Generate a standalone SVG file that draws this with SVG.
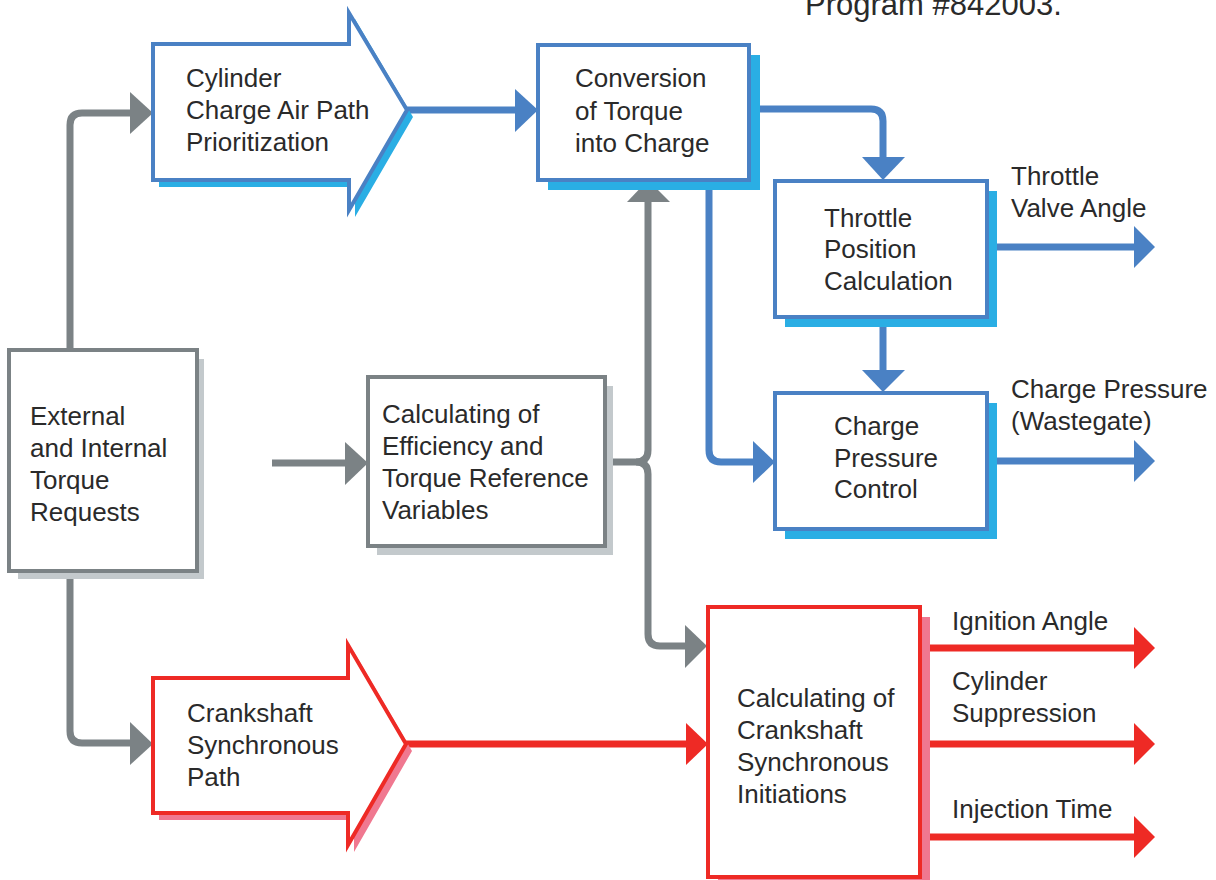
<svg xmlns="http://www.w3.org/2000/svg" width="1216" height="880" viewBox="0 0 1216 880">
  <style>
    text { font-family: "Liberation Sans", Arial, sans-serif; font-size: 26px; fill: #2a2a2a; }
    .box { fill: #ffffff; stroke-width: 4; }
    .blue { stroke: #4a81c4; }
    .gray { stroke: #7b8285; }
    .red { stroke: #ee2a25; }
    .sh-blue { fill: #2aaee4; }
    .sh-gray { fill: #c3c9cc; }
    .sh-red { fill: #f07890; }
    .line { fill: none; stroke-width: 7; }
    .head-blue { fill: #4a81c4; }
    .head-gray { fill: #7b8285; }
    .head-red { fill: #ee2a25; }
  </style>

  <!-- header line, running off the top edge -->
  <text x="805" y="15" style="font-size:31px">Program #842003.</text>

  <!-- connectors -->
  <g id="connectors">
    <!-- gray: torque requests -->
    <path class="line gray" d="M70,350 V125 Q70,113 82,113 H132"/>
    <polygon class="head-gray" points="130,92 153,113 130,134"/>
    <path class="line gray" d="M70,579 V731 Q70,743 82,743 H132"/>
    <polygon class="head-gray" points="130,722 153,744 130,765"/>
    <path class="line gray" d="M272,463 H347"/>
    <polygon class="head-gray" points="345,442 368,463 345,485"/>
    <!-- gray bracket out of efficiency block -->
    <path class="line gray" d="M613,462 H636 Q648,462 648,450 V200"/>
    <polygon class="head-gray" points="627,202 648,180 670,202"/>
    <path class="line gray" d="M636,462 Q648,462 648,474 V634 Q648,646 660,646 H688"/>
    <polygon class="head-gray" points="685,625 707,646 685,668"/>

    <!-- blue: air path -->
    <path class="line blue" d="M407,110 H517"/>
    <polygon class="head-blue" points="515,89 538,110 515,132"/>
    <path class="line blue" d="M749,109 H871 Q883,109 883,121 V159"/>
    <polygon class="head-blue" points="862,157 905,157 883,180"/>
    <path class="line blue" d="M883,327 V372"/>
    <polygon class="head-blue" points="862,370 905,370 883,392"/>
    <path class="line blue" d="M709,190 V450 Q709,462 721,462 H755"/>
    <polygon class="head-blue" points="753,441 775,462 753,483"/>
    <path class="line blue" d="M997,247 H1136"/>
    <polygon class="head-blue" points="1134,226 1155,247 1134,268"/>
    <path class="line blue" d="M997,461 H1136"/>
    <polygon class="head-blue" points="1134,440 1155,461 1134,482"/>

    <!-- red: crankshaft synchronous path -->
    <path class="line red" d="M406,744 H689"/>
    <polygon class="head-red" points="686,723 708,744 686,765"/>
    <path class="line red" d="M930,648 H1136"/>
    <polygon class="head-red" points="1134,627 1155,648 1134,669"/>
    <path class="line red" d="M930,744 H1136"/>
    <polygon class="head-red" points="1134,723 1155,744 1134,765"/>
    <path class="line red" d="M930,837 H1136"/>
    <polygon class="head-red" points="1134,816 1155,837 1134,858"/>
  </g>

  <!-- output labels -->
  <g id="labels">
    <text x="1011" y="185">Throttle</text>
    <text x="1011" y="217">Valve Angle</text>
    <text x="1011" y="398">Charge Pressure</text>
    <text x="1011" y="430">(Wastegate)</text>
    <text x="952" y="630">Ignition Angle</text>
    <text x="952" y="690">Cylinder</text>
    <text x="952" y="722">Suppression</text>
    <text x="952" y="818">Injection Time</text>
  </g>

  <g id="torque-requests">
    <rect class="sh-gray" x="18" y="359" width="186" height="220"/>
    <rect class="box gray" x="9" y="350" width="188" height="221"/>
    <text x="30" y="425">External</text>
    <text x="30" y="457">and Internal</text>
    <text x="30" y="489">Torque</text>
    <text x="30" y="521">Requests</text>
  </g>

  <g id="air-path-prioritization">
    <polygon class="sh-blue" points="159,51 355,51 355,19 413,117 355,217 355,187 159,187"/>
    <polygon class="box blue" points="153,44 349,44 349,13 407,110 349,210 349,180 153,180"/>
    <text x="186" y="87">Cylinder</text>
    <text x="186" y="119">Charge Air Path</text>
    <text x="186" y="151">Prioritization</text>
  </g>

  <g id="torque-to-charge">
    <rect class="sh-blue" x="548" y="55" width="212" height="135"/>
    <rect class="box blue" x="538" y="45" width="211" height="135"/>
    <text x="575" y="87">Conversion</text>
    <text x="575" y="120">of Torque</text>
    <text x="575" y="152">into Charge</text>
  </g>

  <g id="throttle-position">
    <rect class="sh-blue" x="785" y="191" width="212" height="136"/>
    <rect class="box blue" x="775" y="181" width="212" height="136"/>
    <text x="824" y="227">Throttle</text>
    <text x="824" y="258">Position</text>
    <text x="824" y="290">Calculation</text>
  </g>

  <g id="charge-pressure">
    <rect class="sh-blue" x="785" y="403" width="212" height="136"/>
    <rect class="box blue" x="775" y="393" width="212" height="136"/>
    <text x="834" y="435">Charge</text>
    <text x="834" y="467">Pressure</text>
    <text x="834" y="498">Control</text>
  </g>

  <g id="efficiency-reference">
    <rect class="sh-gray" x="377" y="386" width="236" height="169"/>
    <rect class="box gray" x="368" y="377" width="237" height="169"/>
    <text x="382" y="423">Calculating of</text>
    <text x="382" y="455">Efficiency and</text>
    <text x="382" y="487">Torque Reference</text>
    <text x="382" y="519">Variables</text>
  </g>

  <g id="crankshaft-path">
    <polygon class="sh-red" points="159,685 354,685 354,652 412,751 354,852 354,820 159,820"/>
    <polygon class="box red" points="153,678 348,678 348,645 406,744 348,845 348,813 153,813"/>
    <text x="187" y="722">Crankshaft</text>
    <text x="187" y="754">Synchronous</text>
    <text x="187" y="786">Path</text>
  </g>

  <g id="crankshaft-initiations">
    <rect class="sh-red" x="718" y="617" width="212" height="270"/>
    <rect class="box red" x="708" y="607" width="212" height="270"/>
    <text x="737" y="707">Calculating of</text>
    <text x="737" y="739">Crankshaft</text>
    <text x="737" y="771">Synchronous</text>
    <text x="737" y="803">Initiations</text>
  </g>
</svg>
